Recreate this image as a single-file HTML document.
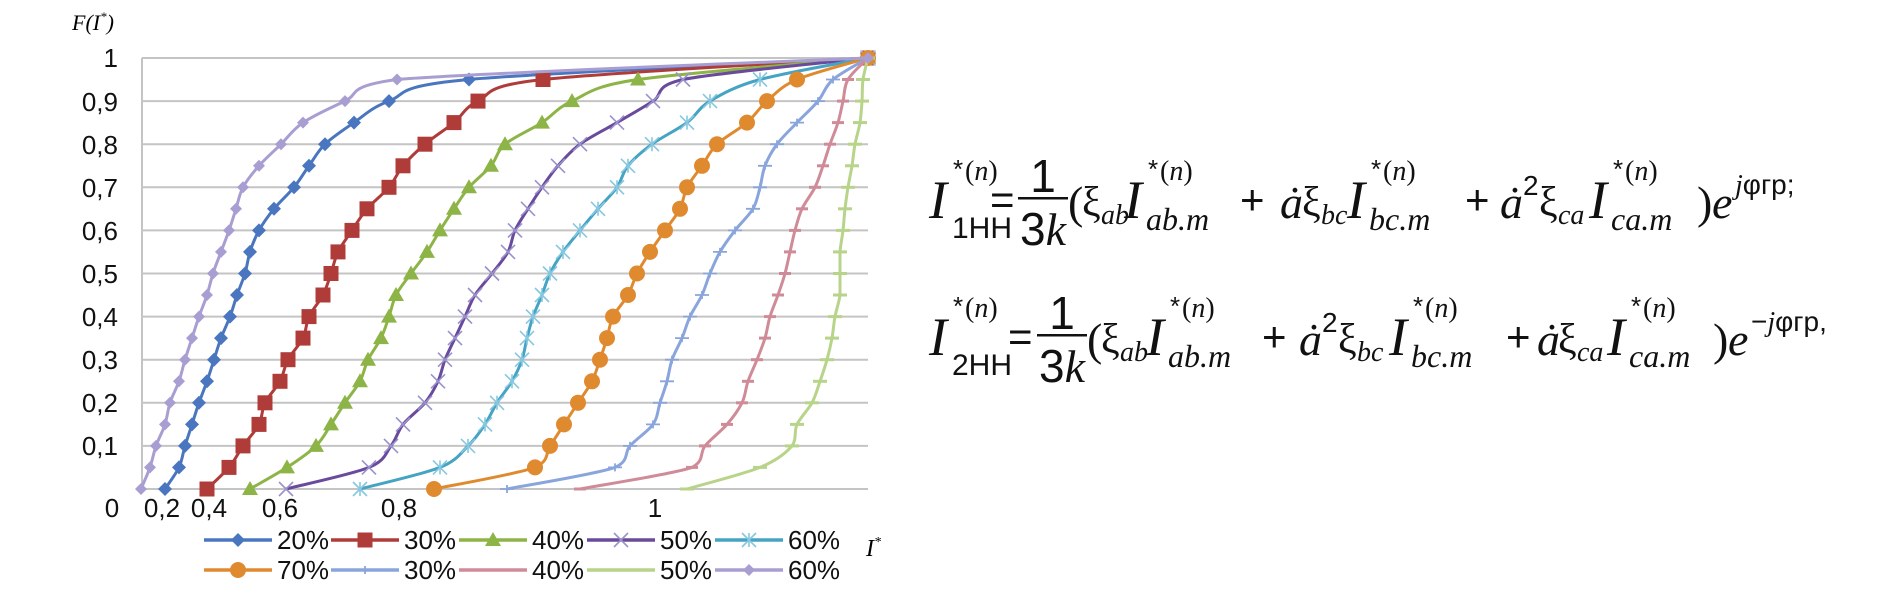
<!DOCTYPE html>
<html><head><meta charset="utf-8"><style>
html,body{margin:0;padding:0;background:#fff;width:1903px;height:611px;overflow:hidden}
svg{display:block}
.s{font-family:"Liberation Sans",sans-serif}
.r{font-family:"Liberation Serif",serif}
.i{font-family:"Liberation Serif",serif;font-style:italic}
.ax{font-family:"Liberation Sans",sans-serif;font-size:26px;fill:#111}
</style></head><body>
<svg id="c" width="1903" height="611" viewBox="0 0 1903 611" xmlns="http://www.w3.org/2000/svg">
<g id="grid" stroke="#c4c4c4" stroke-width="2"></g>
<g id="ser"></g>
<text class="i" x="72" y="30" font-size="22">F(I<tspan font-size="13" dy="-9">*</tspan><tspan dy="9">)</tspan></text>
<g class="ax" text-anchor="end">
<text x="118" y="67">1</text>
<text x="118" y="111">0,9</text>
<text x="118" y="154">0,8</text>
<text x="118" y="197">0,7</text>
<text x="118" y="240">0,6</text>
<text x="118" y="283">0,5</text>
<text x="118" y="326">0,4</text>
<text x="118" y="369">0,3</text>
<text x="118" y="412">0,2</text>
<text x="118" y="455">0,1</text>
</g>
<g class="ax" text-anchor="middle">
<text x="112" y="517">0</text>
<text x="162" y="517">0,2</text>
<text x="209" y="517">0,4</text>
<text x="280" y="517">0,6</text>
<text x="399" y="517">0,8</text>
<text x="655" y="517">1</text>
</g>
<text class="i" x="866" y="556" font-size="24">I<tspan font-size="14" dy="-10">*</tspan></text>
<g id="leg"></g>
<g class="ax">
<text x="277" y="549">20%</text><text x="404" y="549">30%</text><text x="532" y="549">40%</text><text x="660" y="549">50%</text><text x="788" y="549">60%</text>
<text x="277" y="579">70%</text><text x="404" y="579">30%</text><text x="532" y="579">40%</text><text x="660" y="579">50%</text><text x="788" y="579">60%</text>
</g>

<!-- formula 1 -->
<g fill="#111">
<text class="i" x="929" y="218" font-size="54">I</text>
<text class="s" x="953" y="178" font-size="26">*</text><text class="r" x="965" y="180" font-size="28">(<tspan class="i">n</tspan>)</text>
<text class="s" x="952" y="238" font-size="30">1НН</text>
<text class="s" x="990" y="214" font-size="42">=</text>
<text class="s" x="1043" y="192" font-size="46" text-anchor="middle">1</text>
<rect x="1018" y="197" width="50" height="2.5"/>
<text x="1043" y="245" font-size="46" text-anchor="middle"><tspan class="s">3</tspan><tspan class="i">k</tspan></text>
<text class="r" x="1068" y="218" font-size="46">(</text>
<text class="r" x="1082" y="216" font-size="42">ξ</text><text class="i" x="1101" y="224" font-size="28">ab</text>
<text class="i" x="1124" y="218" font-size="54">I</text>
<text class="s" x="1148" y="178" font-size="26">*</text><text class="r" x="1160" y="180" font-size="28">(<tspan class="i">n</tspan>)</text>
<text class="i" x="1146" y="230" font-size="32">ab.m</text>
<text class="s" x="1240" y="214" font-size="42">+</text>
<text class="i" x="1280" y="218" font-size="46">ȧ</text>
<text class="r" x="1302" y="216" font-size="42">ξ</text><text class="i" x="1321" y="224" font-size="28">bc</text>
<text class="i" x="1347" y="218" font-size="54">I</text>
<text class="s" x="1371" y="178" font-size="26">*</text><text class="r" x="1383" y="180" font-size="28">(<tspan class="i">n</tspan>)</text>
<text class="i" x="1369" y="230" font-size="32">bc.m</text>
<text class="s" x="1465" y="214" font-size="42">+</text>
<text class="i" x="1500" y="218" font-size="46">ȧ</text><text class="s" x="1523" y="195" font-size="28">2</text>
<text class="r" x="1539" y="216" font-size="42">ξ</text><text class="i" x="1558" y="224" font-size="28">ca</text>
<text class="i" x="1589" y="218" font-size="54">I</text>
<text class="s" x="1613" y="178" font-size="26">*</text><text class="r" x="1625" y="180" font-size="28">(<tspan class="i">n</tspan>)</text>
<text class="i" x="1611" y="230" font-size="32">ca.m</text>
<text class="r" x="1697" y="218" font-size="46">)</text>
<text class="i" x="1712" y="218" font-size="46">e</text>
<text x="1735" y="194" font-size="28"><tspan class="i">j</tspan><tspan class="s">φгр;</tspan></text>
</g>

<!-- formula 2 -->
<g fill="#111">
<text class="i" x="929" y="355" font-size="54">I</text>
<text class="s" x="953" y="315" font-size="26">*</text><text class="r" x="965" y="317" font-size="28">(<tspan class="i">n</tspan>)</text>
<text class="s" x="952" y="375" font-size="30">2НН</text>
<text class="s" x="1008" y="351" font-size="42">=</text>
<text class="s" x="1062" y="329" font-size="46" text-anchor="middle">1</text>
<rect x="1037" y="334" width="50" height="2.5"/>
<text x="1062" y="382" font-size="46" text-anchor="middle"><tspan class="s">3</tspan><tspan class="i">k</tspan></text>
<text class="r" x="1087" y="355" font-size="46">(</text>
<text class="r" x="1101" y="353" font-size="42">ξ</text><text class="i" x="1120" y="361" font-size="28">ab</text>
<text class="i" x="1146" y="355" font-size="54">I</text>
<text class="s" x="1170" y="315" font-size="26">*</text><text class="r" x="1182" y="317" font-size="28">(<tspan class="i">n</tspan>)</text>
<text class="i" x="1168" y="367" font-size="32">ab.m</text>
<text class="s" x="1262" y="351" font-size="42">+</text>
<text class="i" x="1299" y="355" font-size="46">ȧ</text><text class="s" x="1322" y="332" font-size="28">2</text>
<text class="r" x="1338" y="353" font-size="42">ξ</text><text class="i" x="1357" y="361" font-size="28">bc</text>
<text class="i" x="1389" y="355" font-size="54">I</text>
<text class="s" x="1413" y="315" font-size="26">*</text><text class="r" x="1425" y="317" font-size="28">(<tspan class="i">n</tspan>)</text>
<text class="i" x="1411" y="367" font-size="32">bc.m</text>
<text class="s" x="1506" y="351" font-size="42">+</text>
<text class="i" x="1537" y="355" font-size="46">ȧ</text>
<text class="r" x="1558" y="353" font-size="42">ξ</text><text class="i" x="1577" y="361" font-size="28">ca</text>
<text class="i" x="1607" y="355" font-size="54">I</text>
<text class="s" x="1631" y="315" font-size="26">*</text><text class="r" x="1643" y="317" font-size="28">(<tspan class="i">n</tspan>)</text>
<text class="i" x="1629" y="367" font-size="32">ca.m</text>
<text class="r" x="1713" y="355" font-size="46">)</text>
<text class="i" x="1728" y="355" font-size="46">e</text>
<text x="1751" y="331" font-size="28"><tspan class="s">−</tspan><tspan class="i">j</tspan><tspan class="s">φгр,</tspan></text>
</g>
</svg>
<script>
(function(){
var NS="http://www.w3.org/2000/svg";
function el(p,t,a){var e=document.createElementNS(NS,t);for(var k in a)e.setAttribute(k,a[k]);p.appendChild(e);return e;}
var Y=function(f){return 489-431*f;};
var g=document.getElementById('grid');
for(var k=0;k<=10;k++){el(g,'line',{x1:142,x2:868,y1:Y(k/10),y2:Y(k/10)});}
el(g,'line',{x1:142,x2:142,y1:58,y2:489});
var S=[
{c:'#4a76c0',m:'dia',r:7,x:[165,179,185,192,199,207,214,221,230,237,245,250,259,274,294,309,325,354,389,469]},
{c:'#b03c3a',m:'sq',r:7.5,x:[207,229,243,259,265,280,288,303,309,323,331,338,352,367,389,403,425,454,478,543]},
{c:'#8db446',m:'tri',r:8,x:[250,287,316,331,345,360,368,381,389,396,411,427,440,454,469,491,505,542,572,638]},
{c:'#6a4a9c',m:'x',mc:'#9a92cc',r:7,x:[286,369,391,403,425,438,445,455,465,475,492,508,515,528,542,558,580,617,653,683]},
{c:'#45a3c4',m:'ast',mc:'#86c8e0',r:7,x:[360,440,468,485,497,512,522,527,533,542,550,563,580,598,617,628,652,687,710,760]},
{c:'#e08a30',m:'cir',r:8,x:[434,535,550,564,578,592,600,607,613,628,637,650,665,680,687,702,717,747,767,797]},
{c:'#8aa5dc',m:'plus',r:7,x:[507,615,630,653,660,667,672,682,690,702,710,720,735,753,760,765,777,797,818,833]},
{c:'#cf8c98',m:'dash',r:6,x:[580,692,705,727,742,748,757,765,770,778,785,790,795,802,815,823,830,838,843,848]},
{c:'#b7d48a',m:'dash',r:7,x:[687,760,792,797,812,820,827,832,835,840,840,840,843,845,848,852,855,860,862,863]},
{c:'#a99ed2',m:'dia',r:6,x:[141,150,156,165,170,179,185,192,199,207,213,221,229,236,243,259,281,303,345,397]}
];
function cl(v,a,b){var lo=Math.min(a,b),hi=Math.max(a,b);return Math.max(lo,Math.min(hi,v));}
function path(pts){
 var d='M'+pts[0][0]+','+pts[0][1];
 for(var i=0;i<pts.length-1;i++){
  var p0=pts[Math.max(0,i-1)],p1=pts[i],p2=pts[i+1],p3=pts[Math.min(pts.length-1,i+2)];
  var t=0.16;
  var c1x=cl(p1[0]+(p2[0]-p0[0])*t,p1[0],p2[0]),c1y=cl(p1[1]+(p2[1]-p0[1])*t,p1[1],p2[1]);
  var c2x=cl(p2[0]-(p3[0]-p1[0])*t,p1[0],p2[0]),c2y=cl(p2[1]-(p3[1]-p1[1])*t,p1[1],p2[1]);
  d+=' C'+c1x.toFixed(1)+','+c1y.toFixed(1)+' '+c2x.toFixed(1)+','+c2y.toFixed(1)+' '+p2[0]+','+p2[1];
 }
 return d;
}
function mark(p,s,x,y){
 var r=s.r,c=s.mc||s.c;
 if(s.m=='dia')el(p,'polygon',{points:(x)+','+(y-r)+' '+(x+r)+','+y+' '+x+','+(y+r)+' '+(x-r)+','+y,fill:c});
 else if(s.m=='sq')el(p,'rect',{x:x-r,y:y-r,width:2*r,height:2*r,fill:c});
 else if(s.m=='tri')el(p,'polygon',{points:x+','+(y-r)+' '+(x+r)+','+(y+r*0.75)+' '+(x-r)+','+(y+r*0.75),fill:c});
 else if(s.m=='cir')el(p,'circle',{cx:x,cy:y,r:r,fill:c});
 else if(s.m=='x'){el(p,'path',{d:'M'+(x-r)+','+(y-r)+'L'+(x+r)+','+(y+r)+'M'+(x-r)+','+(y+r)+'L'+(x+r)+','+(y-r),stroke:c,'stroke-width':1.6,fill:'none'});}
 else if(s.m=='ast'){el(p,'path',{d:'M'+(x-r)+','+(y-r)+'L'+(x+r)+','+(y+r)+'M'+(x-r)+','+(y+r)+'L'+(x+r)+','+(y-r)+'M'+x+','+(y-r)+'L'+x+','+(y+r),stroke:c,'stroke-width':1.6,fill:'none'});}
 else if(s.m=='plus'){el(p,'path',{d:'M'+(x-r)+','+y+'L'+(x+r)+','+y+'M'+x+','+(y-4)+'L'+x+','+(y+4),stroke:c,'stroke-width':1.8,fill:'none'});}
 else if(s.m=='dash'){el(p,'path',{d:'M'+(x-r)+','+y+'L'+(x+r)+','+y,stroke:c,'stroke-width':3,fill:'none'});}
}
var sg=document.getElementById('ser');
S.forEach(function(s){
 var pts=s.x.map(function(x,i){return [x,+Y(i*0.05).toFixed(1)];});
 pts.push([868,58]);
 el(sg,'path',{d:path(pts),stroke:s.c,'stroke-width':3,fill:'none','stroke-linejoin':'round'});
 pts.forEach(function(p){mark(sg,s,p[0],p[1]);});
});
var lg=document.getElementById('leg');
var lx=[204,331,459,587,715];
S.forEach(function(s,i){
 var row=i<5?0:1, x=lx[i%5], y=row?570:540;
 el(lg,'line',{x1:x,x2:x+68,y1:y,y2:y,stroke:s.c,'stroke-width':3.5});
 var ls={}; for(var k in s)ls[k]=s[k];
 if(s.m=='dash')ls.r=0;
 mark(lg,ls,x+34,y);
});
})();
</script>
</body></html>
